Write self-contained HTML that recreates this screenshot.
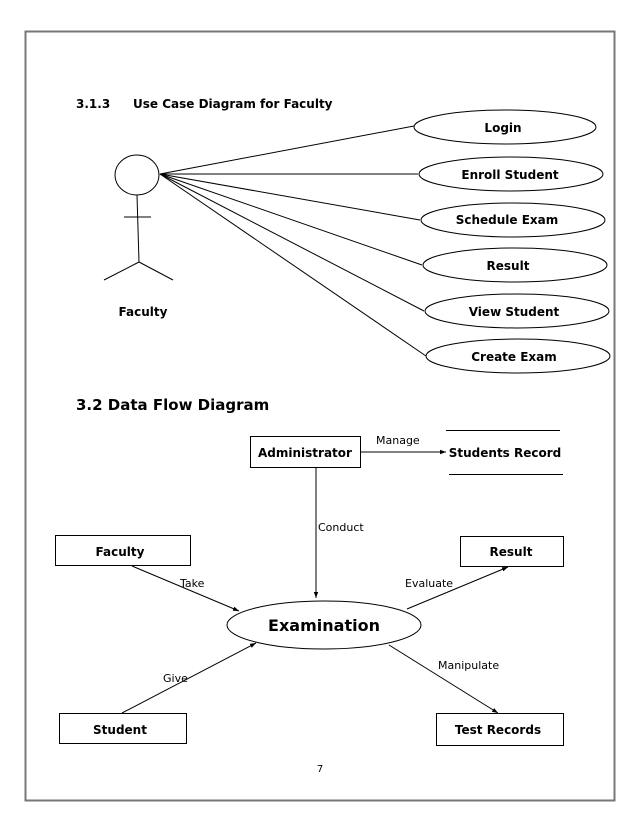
<!DOCTYPE html>
<html><head><meta charset="utf-8"><style>
body{margin:0;background:#fff}
svg{display:block}
text{font-family:"DejaVu Sans","Liberation Sans",sans-serif;fill:#000}
.b{font-weight:bold;font-size:12px}
.n{font-size:11px}
</style></head><body>
<svg width="638" height="826" viewBox="0 0 638 826">
<defs><marker id="a" markerWidth="6" markerHeight="6" refX="6" refY="3" orient="auto"><path d="M0,0.8L6,3L0,5.2z" fill="#000"/></marker></defs>
<rect x="25.5" y="31.5" width="589" height="769" fill="none" stroke="#777" stroke-width="2"/>
<text x="76" y="108" class="b" style="font-size:12px">3.1.3</text>
<text x="133" y="108" class="b">Use Case Diagram for Faculty</text>
<g stroke="#000" fill="none" stroke-width="1">
<ellipse cx="137" cy="175" rx="22" ry="20"/>
<line x1="137" y1="195" x2="139" y2="262"/>
<line x1="124" y1="217" x2="151" y2="217"/>
<line x1="139" y1="262" x2="104" y2="280"/>
<line x1="139" y1="262" x2="173" y2="280"/>
<line x1="160" y1="174" x2="414" y2="126"/>
<line x1="160" y1="174" x2="418" y2="174"/>
<line x1="160" y1="174" x2="420" y2="220"/>
<line x1="160" y1="174" x2="422" y2="265"/>
<line x1="160" y1="174" x2="424" y2="311"/>
<line x1="160" y1="174" x2="426" y2="356"/>
<ellipse cx="505" cy="127" rx="91" ry="17"/>
<ellipse cx="511" cy="174" rx="92" ry="17"/>
<ellipse cx="513" cy="220" rx="92" ry="17"/>
<ellipse cx="515" cy="265" rx="92" ry="17"/>
<ellipse cx="517" cy="311" rx="92" ry="17"/>
<ellipse cx="518" cy="356" rx="92" ry="17"/>
</g>
<g class="b" text-anchor="middle">
<text x="503" y="132" class="b">Login</text>
<text x="510" y="179" class="b">Enroll Student</text>
<text x="507" y="224" class="b">Schedule Exam</text>
<text x="508" y="270" class="b">Result</text>
<text x="514" y="316" class="b">View Student</text>
<text x="514" y="361" class="b">Create Exam</text>
<text x="143" y="316" class="b">Faculty</text>
</g>
<text x="76" y="410" class="b" style="font-size:15px">3.2  Data Flow Diagram</text>
<g stroke="#000" fill="none">
<rect x="250.5" y="436.5" width="110" height="31"/>
<line x1="360" y1="452" x2="446" y2="452" marker-end="url(#a)"/>
<line x1="446" y1="430.5" x2="560" y2="430.5"/>
<line x1="449" y1="474.5" x2="563" y2="474.5"/>
<line x1="316" y1="468" x2="316" y2="598" marker-end="url(#a)"/>
<rect x="55.5" y="535.5" width="135" height="30"/>
<rect x="460.5" y="536.5" width="103" height="30"/>
<rect x="59.5" y="713.5" width="127" height="30"/>
<rect x="436.5" y="713.5" width="127" height="32"/>
<ellipse cx="324" cy="625" rx="97" ry="24"/>
<line x1="132" y1="566" x2="239" y2="611" marker-end="url(#a)"/>
<line x1="407" y1="609" x2="508" y2="567" marker-end="url(#a)"/>
<line x1="122" y1="713" x2="256" y2="643" marker-end="url(#a)"/>
<line x1="389" y1="645" x2="498" y2="713" marker-end="url(#a)"/>
</g>
<text x="305" y="457" class="b" text-anchor="middle">Administrator</text>
<text x="505" y="457" class="b" text-anchor="middle">Students Record</text>
<text x="120" y="556" class="b" text-anchor="middle">Faculty</text>
<text x="511" y="556" class="b" text-anchor="middle">Result</text>
<text x="120" y="734" class="b" text-anchor="middle">Student</text>
<text x="498" y="734" class="b" text-anchor="middle">Test Records</text>
<text x="324" y="631" class="b" text-anchor="middle" style="font-size:16px">Examination</text>
<text x="376" y="444" class="n">Manage</text>
<text x="318" y="531" class="n">Conduct</text>
<text x="180" y="587" class="n">Take</text>
<text x="405" y="587" class="n">Evaluate</text>
<text x="163" y="682" class="n">Give</text>
<text x="438" y="669" class="n">Manipulate</text>
<text x="320" y="772" class="n" text-anchor="middle" style="font-size:10px">7</text>
</svg>
</body></html>
